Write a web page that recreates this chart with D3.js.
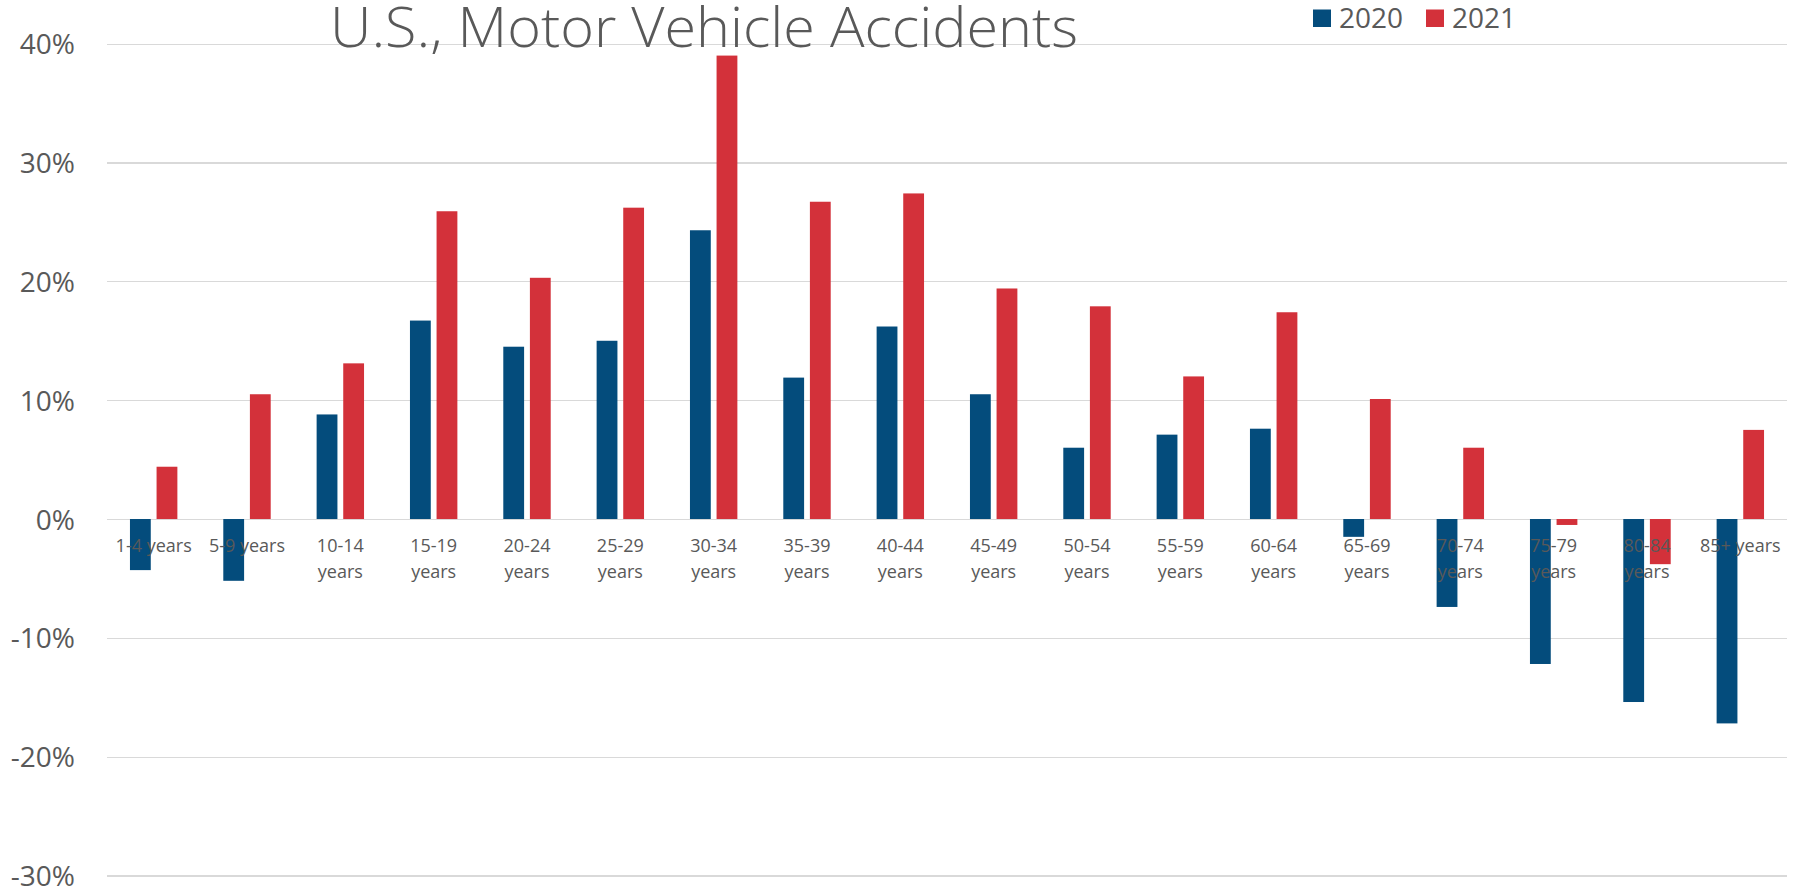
<!DOCTYPE html>
<html>
<head>
<meta charset="utf-8">
<script src="https://cdn.jsdelivr.net/npm/d3@7"></script>
<style>
  html, body { margin: 0; padding: 0; background: #ffffff; }
  svg { display: block; font-family: "Open Sans", "Noto Sans", sans-serif; }
</style>
</head>
<body>
<svg id="chart" width="1802" height="889"></svg>
<script>
// Percent change in motor vehicle accident deaths by age group
const categories = ["1-4 years", "5-9 years", "10-14 years", "15-19 years", "20-24 years",
  "25-29 years", "30-34 years", "35-39 years", "40-44 years", "45-49 years", "50-54 years",
  "55-59 years", "60-64 years", "65-69 years", "70-74 years", "75-79 years", "80-84 years",
  "85+ years"];
const seriesNames = ["2020", "2021"];
const values2020 = [-4.3, -5.2, 8.8, 16.7, 14.5, 15.0, 24.3, 11.9, 16.2, 10.5, 6.0, 7.1, 7.6,
  -1.5, -7.4, -12.2, -15.4, -17.2];
const values2021 = [4.4, 10.5, 13.1, 25.9, 20.3, 26.2, 39.0, 26.7, 27.4, 19.4, 17.9, 12.0, 17.4,
  10.1, 6.0, -0.5, -3.8, 7.5];
const yTicks = [-30, -20, -10, 0, 10, 20, 30, 40];
const title = "U.S., Motor Vehicle Accidents";

const colors = { "2020": "#044C7C", "2021": "#D3313A" };
const textColor = "#595959";
const gridColor = "#D9D9D9";

const svg = d3.select("#chart");
const plotLeft = 107, plotRight = 1787, plotTop = 43.7, plotBottom = 875.5;

const x0 = d3.scaleBand().domain(categories).range([plotLeft, plotRight])
  .paddingInner(0.492).paddingOuter(0.246);
const x1 = d3.scaleBand().domain(seriesNames).range([0, x0.bandwidth()]).paddingInner(0.218);
const y = d3.scaleLinear().domain([-30, 40]).range([plotBottom, plotTop]);

// Gridlines and value labels
const yAxis = svg.append("g")
  .attr("transform", `translate(${plotLeft},0)`)
  .call(d3.axisLeft(y).tickValues(yTicks).tickSize(-(plotRight - plotLeft)).tickPadding(32)
    .tickFormat(d => `${d}%`));
yAxis.select(".domain").remove();
yAxis.selectAll(".tick line").attr("stroke", gridColor).attr("stroke-width", 1.2)
  .attr("shape-rendering", "crispEdges");
yAxis.selectAll(".tick text").attr("fill", textColor).attr("font-size", 28)
  .attr("font-family", "'Open Sans', sans-serif").attr("dy", "0.36em");

// Bars
const rows = categories.map((c, i) => ({ cat: c, vals: [values2020[i], values2021[i]] }));
const groups = svg.append("g").selectAll("g").data(rows).join("g")
  .attr("transform", d => `translate(${x0(d.cat)},0)`);
groups.selectAll("rect")
  .data(d => seriesNames.map((s, j) => ({ s, v: d.vals[j] })))
  .join("rect")
  .attr("x", d => x1(d.s))
  .attr("width", x1.bandwidth())
  .attr("y", d => y(Math.max(0, d.v)))
  .attr("height", d => Math.abs(y(d.v) - y(0)))
  .attr("fill", d => colors[d.s]);

// Category labels, wrapped onto two lines when too long for a band
const xAxis = svg.append("g")
  .attr("transform", `translate(0,${y(0)})`)
  .call(d3.axisBottom(x0).tickSize(0).tickPadding(0));
xAxis.select(".domain").remove();
xAxis.selectAll(".tick text")
  .attr("fill", textColor).attr("font-size", 18)
  .attr("font-family", "'Open Sans', sans-serif")
  .attr("dy", 0)
  .each(function(d) {
    const t = d3.select(this);
    const lines = d.length > 9 ? d.split(" ") : [d];
    t.text(null);
    lines.forEach((ln, k) => {
      t.append("tspan").attr("x", 0).attr("y", 33 + k * 25.5).text(ln);
    });
  });

// Title
svg.append("text")
  .attr("x", 330).attr("y", 46.7)
  .attr("fill", textColor).attr("font-size", 56).attr("font-weight", 300)
  .attr("textLength", 748).attr("lengthAdjust", "spacingAndGlyphs")
  .text(title);

// Legend
const legend = svg.append("g").selectAll("g").data(seriesNames).join("g")
  .attr("transform", (d, i) => `translate(${1313 + i * 113},0)`);
legend.append("rect").attr("x", 0).attr("y", 9.5).attr("width", 18).attr("height", 17.5)
  .attr("fill", d => colors[d]);
legend.append("text").attr("x", 26).attr("y", 28.3)
  .attr("fill", textColor).attr("font-size", 28).text(d => d);
</script>
</body>
</html>
